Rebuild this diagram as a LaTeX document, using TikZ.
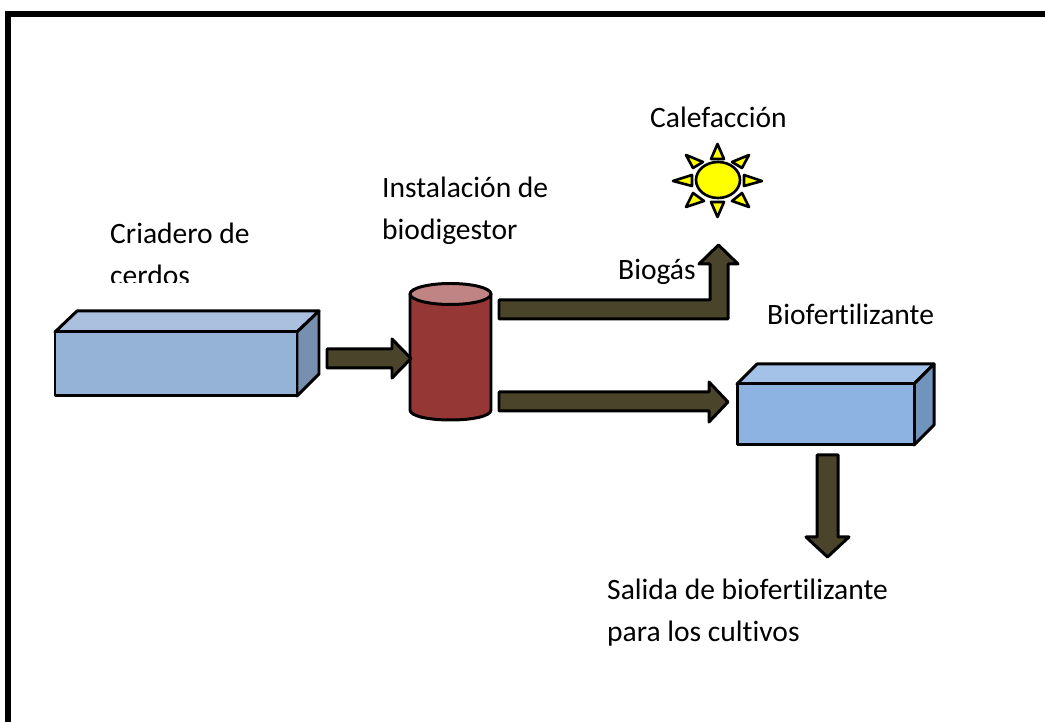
\documentclass[tikz,border=0pt]{standalone}
\usepackage{fontspec}
\setmainfont[RawFeature={-liga;-clig}]{Carlito}
\usepackage{tikz}

\definecolor{arrowfill}{HTML}{4A452A}
\definecolor{tankfill}{HTML}{953735}
\definecolor{tanktop}{HTML}{C08484}
\definecolor{farmtop}{RGB}{170,192,222}
\definecolor{farmside}{RGB}{120,144,176}
\definecolor{farmfront}{RGB}{149,179,215}
\definecolor{storetop}{RGB}{164,194,232}
\definecolor{storeside}{RGB}{113,148,188}
\definecolor{storefront}{RGB}{141,179,226}
\definecolor{sunfill}{RGB}{255,255,0}

\tikzset{
  caption/.style={anchor=base west,inner sep=0pt,font=\fontsize{8.4}{10}\selectfont},
  outline/.style={draw=black,line width=.85pt,line join=round},
  flow/.style={outline,fill=arrowfill},
  ray/.style={outline,line width=.75pt,fill=sunfill}
}

\begin{document}
\begin{tikzpicture}[x=.01cm,y=-.01cm]
\useasboundingbox (0,0) rectangle (1045,722);

% frame
\draw [line width=1.45pt] (8,722) -- (8,14) -- (1045,14);

% pig farm
\draw [outline,fill=farmtop] (55,332) -- (77,311) -- (319,311) -- (297,332) -- cycle;
\draw [outline,fill=farmside] (297,332) -- (319,311) -- (319,374) -- (297,396) -- cycle;
\draw [outline,fill=farmfront] (55,332) rectangle (297,396);

% fertilizer tank
\draw [outline,fill=storetop] (737,384) -- (757,364) -- (934,364) -- (914,384) -- cycle;
\draw [outline,fill=storeside] (914,384) -- (934,364) -- (934,425) -- (914,445) -- cycle;
\draw [outline,fill=storefront] (737,384) rectangle (914,445);

% digester
\draw [outline,fill=tankfill] (410,294) -- (410,410) .. controls (410,416) and (428,420) .. (450.5,420) .. controls (473,420) and (491,416) .. (491,410) -- (491,294) -- cycle;
\draw [outline,fill=tanktop] (450.5,294) circle [x radius=40.5,y radius=10.5];

% flows
\draw [flow] (327,349) -- (392,349) -- (392,339) -- (411,358.5) -- (392,378) -- (392,368) -- (327,368) -- cycle;
\draw [flow] (499,300) -- (710,300) -- (710,264) -- (699,264) -- (718.5,245) -- (738,264) -- (728,264) -- (728,319) -- (499,319) -- cycle;
\draw [flow] (499,392) -- (709,392) -- (709,382) -- (728,402) -- (709,422) -- (709,411) -- (499,411) -- cycle;
\draw [flow] (817,455) -- (838,455) -- (838,537) -- (849,537) -- (827.5,557) -- (806,537) -- (817,537) -- cycle;

% sun
\draw [ray] (718,180) circle [x radius=22,y radius=18];
\draw [ray] (717.5,144) -- (724,159) -- (711,159) -- cycle;
\draw [ray] (717.5,217) -- (724,202) -- (711,202) -- cycle;
\draw [ray] (673,181) -- (692,175) -- (692,186) -- cycle;
\draw [ray] (762,181) -- (744,175) -- (744,186) -- cycle;
\draw [ray] (686,155) -- (703,162) -- (693,168) -- cycle;
\draw [ray] (749,155) -- (732,162) -- (742,168) -- cycle;
\draw [ray] (686,207) -- (693,193) -- (704,201) -- cycle;
\draw [ray] (749,207) -- (742,193) -- (732,201) -- cycle;

% captions
\node [caption] (criadero) at (109.5,244) {Criadero de};
\begin{scope}
\clip (100,255) rectangle (260,283);
\node [caption] (cerdos) at (109.5,286) {cerdos};
\end{scope}
\node [caption] (instalacion) at (381.5,198) {Instalación de};
\node [caption] (biodigestor) at (381.5,240) {biodigestor};
\node [caption] (calefaccion) at (649.5,128) {Calefacción};
\node [caption] (biogas) at (617.5,280) {Biogás};
\node [caption] (biofertilizante) at (766.5,325) {Biofertilizante};
\node [caption] (salida) at (606.5,600) {Salida de biofertilizante};
\node [caption] (cultivos) at (606.5,642) {para los cultivos};
\end{tikzpicture}
\end{document}
